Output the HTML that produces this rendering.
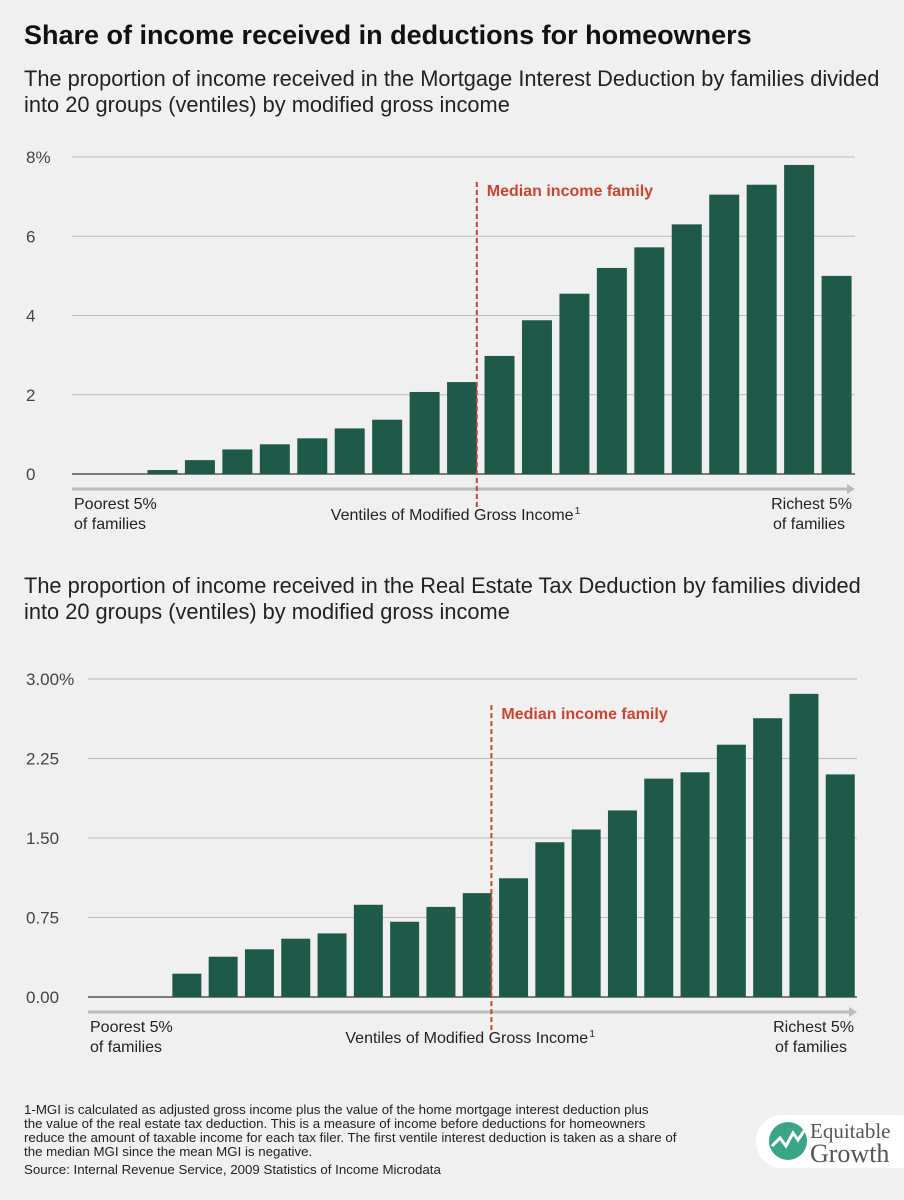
<!DOCTYPE html>
<html><head><meta charset="utf-8"><style>
body{margin:0;background:#f0f0f0;}
svg{display:block;font-family:"Liberation Sans",sans-serif;}
</style></head><body>
<svg id="s" width="904" height="1200" viewBox="0 0 904 1200">
<rect width="904" height="1200" fill="#f0f0f0"/>
<text x="24" y="44" font-size="27" font-weight="bold" fill="#111">Share of income received in deductions for homeowners</text>
<text x="24" y="86" font-size="21.8" fill="#222">The proportion of income received in the Mortgage Interest Deduction by families divided</text>
<text x="24" y="112" font-size="21.8" fill="#222">into 20 groups (ventiles) by modified gross income</text>
<text x="24" y="593" font-size="21.8" fill="#222">The proportion of income received in the Real Estate Tax Deduction by families divided</text>
<text x="24" y="619" font-size="21.8" fill="#222">into 20 groups (ventiles) by modified gross income</text>
<g id="c1"></g>
<g id="c2"></g>
<g font-size="13.3" fill="#222">
<text x="24" y="1114">1-MGI is calculated as adjusted gross income plus the value of the home mortgage interest deduction plus</text>
<text x="24" y="1128">the value of the real estate tax deduction. This is a measure of income before deductions for homeowners</text>
<text x="24" y="1142">reduce the amount of taxable income for each tax filer. The first ventile interest deduction is taken as a share of</text>
<text x="24" y="1156">the median MGI since the mean MGI is negative.</text>
<text x="24" y="1174">Source: Internal Revenue Service, 2009 Statistics of Income Microdata</text>
</g>
<g>
<rect x="756" y="1115" width="170" height="53" rx="26" fill="#fff"/>
<circle cx="788" cy="1141" r="19" fill="#3aa586"/>
<polyline points="772,1146 780,1138 786,1146 793,1133 798,1140 806,1128" fill="none" stroke="#fff" stroke-width="3"/>
<text x="810" y="1138" font-family="Liberation Serif,serif" font-size="21" fill="#555">Equitable</text>
<text x="810" y="1162" font-family="Liberation Serif,serif" font-size="26" fill="#555">Growth</text>
</g>
</svg>
<script>
const cats=["V1","V2","V3","V4","V5","V6","V7","V8","V9","V10","V11","V12","V13","V14","V15","V16","V17","V18","V19","V20"];
const mortgageValues=[0,0.1,0.35,0.62,0.75,0.9,1.15,1.37,2.07,2.32,2.98,3.88,4.55,5.2,5.72,6.3,7.05,7.3,7.8,5.0];
const realEstateValues=[0,0.22,0.38,0.45,0.55,0.6,0.87,0.71,0.85,0.98,1.12,1.46,1.58,1.76,2.06,2.12,2.38,2.63,2.86,2.1];
const ticks1=[0,2,4,6,8];
const tickLabels1=["0","2","4","6","8%"];
const ticks2=[0,0.75,1.5,2.25,3];
const tickLabels2=["0.00","0.75","1.50","2.25","3.00%"];
const NS="http://www.w3.org/2000/svg";
function mk(p,t,a,txt){const e=document.createElementNS(NS,t);for(const k in a)e.setAttribute(k,a[k]);if(txt!=null)e.textContent=txt;p.appendChild(e);return e;}
function draw(g,vals,ticks,labels,o){
  const y=v=>o.y0-(v/o.max)*(o.y0-o.yTop);
  const x=i=>o.barStart+i*o.slot;
  ticks.forEach((t,i)=>{
    const l=mk(g,'line',{x1:o.gridX,x2:o.gridX2,y1:y(t),y2:y(t),stroke:'#bbb','stroke-width':1});
    
    
    const tx=mk(g,'text',{x:o.labelX,y:y(t)+6,'font-size':17,fill:'#444'},labels[i]);
    
    
  });
  const base=mk(g,'line',{x1:o.gridX,x2:o.gridX2,y1:o.y0,y2:o.y0,stroke:'#333','stroke-width':1.2});
  
  
  vals.forEach((v,i)=>{
    const b=mk(g,'rect',{x:x(i)+(o.slot-o.bw)/2,y:y(v),width:o.bw,height:o.y0-y(v),fill:'#1f5a49'});
    
    
  });
  const ax=mk(g,'line',{x1:o.gridX,x2:o.gridX2-6,y1:o.arrowY,y2:o.arrowY,stroke:'#bbb','stroke-width':3});
  
  
  const ah=mk(g,'polygon',{points:`${o.gridX2-8},${o.arrowY-5} ${o.gridX2},${o.arrowY} ${o.gridX2-8},${o.arrowY+5}`,fill:'#bbb'});
  
  
  const mx=x(10)-4;
  const ml=mk(g,'line',{x1:mx,x2:mx,y1:o.medTop,y2:o.arrowY+18,stroke:'#c9452f','stroke-width':2,'stroke-dasharray':'5,3'});
  
  
  const mt=mk(g,'text',{x:mx+10,y:o.medTop+14,'font-size':16,'font-weight':'bold',fill:'#c9452f'},'Median income family');
  
  
  const t1=mk(g,'text',{x:o.gridX+2,y:o.arrowY+20,'font-size':16,fill:'#222'},'Poorest 5%');
  
  
  const t2=mk(g,'text',{x:o.gridX+2,y:o.arrowY+40,'font-size':16,fill:'#222'},'of families');
  
  
  const t3=mk(g,'text',{x:o.gridX2-3,y:o.arrowY+20,'font-size':16,fill:'#222','text-anchor':'end'},'Richest 5%');
  
  
  const t4=mk(g,'text',{x:o.gridX2-10,y:o.arrowY+40,'font-size':16,fill:'#222','text-anchor':'end'},'of families');
  
  
  const xt=mk(g,'text',{x:mx-146,y:o.arrowY+31,'font-size':16,fill:'#222'},'Ventiles of Modified Gross Income');
  
  
  const sup=mk(g,'text',{x:mx+98,y:o.arrowY+25,'font-size':10,fill:'#222'},'1');
  
  
}
draw(document.getElementById('c1'),mortgageValues,ticks1,tickLabels1,{y0:474,yTop:157,max:8,gridX:72,gridX2:855,labelX:26,barStart:106.3,slot:37.45,bw:30,arrowY:489,medTop:182});
draw(document.getElementById('c2'),realEstateValues,ticks2,tickLabels2,{y0:997,yTop:679,max:3,gridX:88,gridX2:857,labelX:26,barStart:132.4,slot:36.3,bw:29,arrowY:1012,medTop:705});
</script>
</body></html>
